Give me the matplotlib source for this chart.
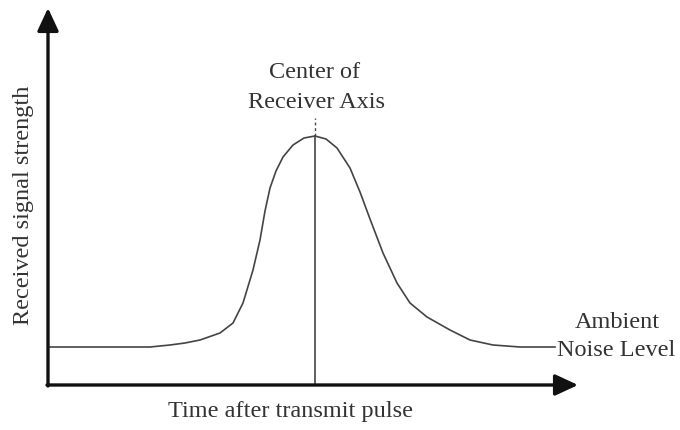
import matplotlib
matplotlib.use('Agg')
import matplotlib.pyplot as plt

# curve (time, signal strength), arbitrary units
time = [2, 52, 102, 122, 137, 152, 172, 185, 195, 205, 212, 217, 222, 228, 235, 245, 256,
        267, 278, 289, 302, 312, 322, 335, 349, 362, 379, 402, 422, 445, 472, 507]
signal = [38, 38, 38, 40, 42, 45, 52, 62, 82, 115, 145, 174, 197, 214, 228, 240, 247,
          249, 246, 237, 217, 193, 166, 132, 102, 82, 68, 55, 45, 40, 38, 38]
peak_t = 267
peak_s = 249
axis_top = 267

ink = '#333333'
plt.rcParams['font.family'] = ['Liberation Serif', 'DejaVu Serif']

fig = plt.figure(figsize=(6.8, 4.3), dpi=100)
ax = fig.add_axes([0, 0, 1, 1])
ax.set_xlim(-48, 632)
ax.set_ylim(-45, 385)
ax.axis('off')

# axes with arrow heads
arrow = dict(arrowstyle='-|>,head_length=14,head_width=6.5', lw=2.4, color='#111111',
             mutation_scale=1, shrinkA=0, shrinkB=0)
ax.annotate('', xy=(0, 377), xytext=(0, -1), arrowprops=arrow)
ax.annotate('', xy=(530, 0), xytext=(-1, 0), arrowprops=arrow)

# signal curve
ax.plot(time, signal, color='#444444', lw=1.2, solid_joinstyle='round')

# receiver axis line
ax.plot([peak_t, peak_t], [0, peak_s], color='#444444', lw=1.2)
ax.plot([peak_t, peak_t], [peak_s, axis_top], color='#444444', lw=1.0, ls=(0, (2, 2)))

fs = 17.5
ax.text(267, 312, 'Center of', ha='center', va='center', fontsize=fs, color=ink)
ax.text(269, 283, 'Receiver Axis', ha='center', va='center', fontsize=fs, color=ink)
ax.text(569, 63, 'Ambient', ha='center', va='center', fontsize=fs, color=ink)
ax.text(568, 35, 'Noise Level', ha='center', va='center', fontsize=fs, color=ink)
ax.text(242, -27, 'Time after transmit pulse', ha='center', va='center', fontsize=fs, color=ink)
ax.text(-24, 180, 'Received signal strength', ha='center', va='center', rotation=90,
        fontsize=fs, color=ink)

fig.savefig('out.png', dpi=100, facecolor='white')
